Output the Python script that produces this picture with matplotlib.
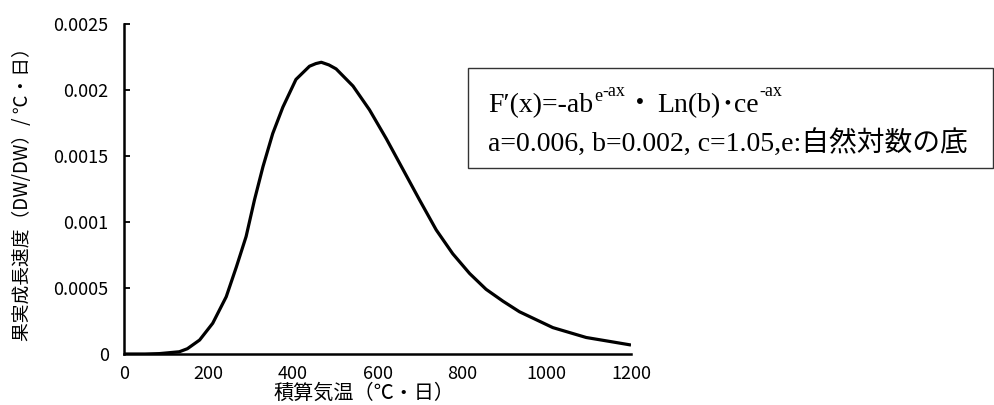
"""Fruit growth rate vs. accumulated temperature (Gompertz derivative)."""

import matplotlib
matplotlib.use("Agg")
import matplotlib.pyplot as plt
from matplotlib.patches import Rectangle

plt.rcParams["font.family"] = ["Noto Sans CJK JP", "DejaVu Sans"]

W, H = 994, 405

# values
heat_sum = [0, 50, 84, 131, 150, 179, 210, 242, 266, 289, 309, 329, 352, 376,
            407, 439, 454, 467, 485, 502, 542, 581, 621, 660, 699, 739, 778,
            818, 857, 897, 936, 1015, 1094, 1150, 1200]
growth_rate = [0.0, 0.0, 0.000003, 0.000017, 0.00004, 0.000106, 0.000233,
               0.000434, 0.00066, 0.00089, 0.00117, 0.00142, 0.00167, 0.00187,
               0.00208, 0.00218, 0.00220, 0.00221, 0.00219, 0.00216, 0.00203,
               0.00185, 0.00163, 0.00140, 0.00117, 0.00094, 0.00076, 0.00061,
               0.00049, 0.00040, 0.00032, 0.00020, 0.000125, 0.000095, 0.000068]

x_ticks = [0, 200, 400, 600, 800, 1000, 1200]
y_ticks = [0, 0.0005, 0.001, 0.0015, 0.002, 0.0025]
y_tick_labels = ["0", "0.0005", "0.001", "0.0015", "0.002", "0.0025"]

fig = plt.figure(figsize=(W / 100, H / 100), dpi=100)
ax = fig.add_axes([124 / W, 1 - 354 / H, (631 - 124) / W, (354 - 24) / H])

ax.plot(heat_sum, growth_rate, color="black", linewidth=2.3,
        solid_joinstyle="round", solid_capstyle="butt")

ax.set_xlim(0, 1200)
ax.set_ylim(0, 0.0025)
ax.set_xticks(x_ticks)
ax.set_yticks(y_ticks)
ax.set_yticklabels(y_tick_labels)
ax.tick_params(axis="x", length=0, pad=8, labelsize=13)
ax.tick_params(axis="y", direction="in", length=4, width=1.3, pad=11, labelsize=13)

for side in ("top", "right"):
    ax.spines[side].set_visible(False)
for side in ("left", "bottom"):
    ax.spines[side].set_linewidth(1.8)

fig.text(364 / W, 1 - 393 / H, "積算気温（℃・日）", ha="center", va="center",
         fontsize=14.5)
fig.text(23 / W, 1 - 190 / H, "果実成長速度（DW/DW）/ ℃・日）", ha="center",
         va="center", rotation=90, fontsize=13.5)

# formula box
box = Rectangle((468 / W, 1 - 168 / H), (993 - 468) / W, 100 / H,
                transform=fig.transFigure, fill=False, edgecolor="#333333",
                linewidth=1.0)
fig.patches.append(box)

serif = ["Liberation Serif", "Noto Sans CJK JP"]
renderer = fig.canvas.get_renderer()


def put_run(pieces, x_px, base_px):
    """Lay out (text, size, raise_px, gap_px) pieces one after another."""
    for text, size, lift, gap in pieces:
        x_px += gap
        t = fig.text(x_px / W, 1 - (base_px - lift) / H, text, family=serif,
                     fontsize=size, va="baseline", ha="left")
        x_px += t.get_window_extent(renderer).width


# line 1: F'(x)=-ab^(e^-ax) ・ Ln(b)・ce^-ax
put_run([("F′(x)=-ab", 20, 0, 0),
         ("e", 13, 11, 1),
         ("-ax", 13, 16, 0),
         ("・", 20, 0, 1),
         ("Ln(b)", 20, 0, 3),
         ("･", 20, 0, 0),
         ("ce", 20, 0, 0),
         ("-ax", 13, 16, 1)], 488, 112)

# line 2
put_run([("a=0.006, b=0.002, c=1.05,e:自然対数の底", 20, 0, 0)], 488, 151)

fig.savefig("out.png", dpi=100)
